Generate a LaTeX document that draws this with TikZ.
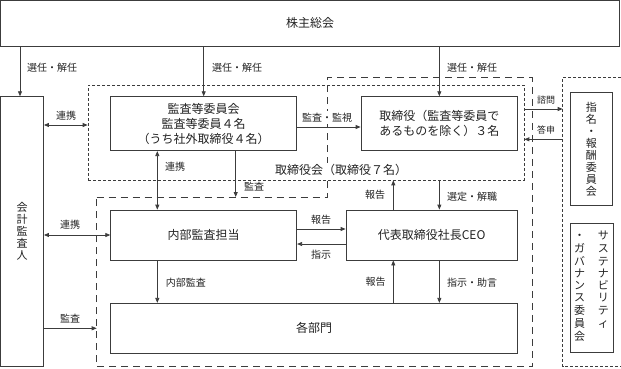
\documentclass[tikz,border=0pt]{standalone}
\usepackage{fontspec}
\setmainfont{Noto Sans CJK JP}
\usetikzlibrary{arrows.meta}
\definecolor{ln}{HTML}{3C3C3C}
\definecolor{tx}{HTML}{222222}
\begin{document}
\begin{tikzpicture}[x=1pt,y=-1pt,
  box/.style={draw=ln, line width=0.8pt, inner sep=0pt, text=tx, font=\fontsize{12}{15}\selectfont, align=center},
  vbox/.style={box, font=\fontsize{11}{12}\selectfont},
  lbl/.style={font=\fontsize{10}{12}\selectfont, inner sep=0pt, text=tx},
  slbl/.style={lbl, font=\fontsize{9}{11}\selectfont},
  arr/.style={draw=ln, line width=0.8pt, -{Triangle[length=5pt,width=4pt]}},
  darr/.style={draw=ln, line width=0.8pt, {Triangle[length=5pt,width=4pt]}-{Triangle[length=5pt,width=4pt]}},
  sdash/.style={draw=ln, line width=0.7pt, dash pattern=on 3pt off 2pt},
  ldash/.style={draw=ln, line width=0.7pt, dash pattern=on 7pt off 5pt},
]
\useasboundingbox (0,0) rectangle (621,368);
\clip (0,0) rectangle (621,368);

% main boxes
\node[box, minimum width=619pt, minimum height=45.5pt] (gm) at (310,23.25) {株主総会};
\node[vbox, minimum width=43pt, minimum height=270pt] (kaikei) at (22,231.7) {会\\計\\監\\査\\人};
\node[box, minimum width=186pt, minimum height=54pt] (kansa) at (203.7,123.7) {監査等委員会\\監査等委員４名\\（うち社外取締役４名）};
\node[box, minimum width=156.7pt, minimum height=54pt] (tori) at (439.35,123.7) {取締役（監査等委員で\\あるものを除く）３名};
\node[box, minimum width=186pt, minimum height=50pt] (naibu) at (203.7,235) {内部監査担当};
\node[box, minimum width=171.3pt, minimum height=50pt] (ceo) at (431.65,235) {代表取締役社長CEO};
\node[box, minimum width=406.6pt, minimum height=50pt] (bumon) at (314,328.3) {各部門};
\node[vbox, minimum width=42.7pt, minimum height=113pt] (shimei) at (591.35,149.2) {指\\名\\・\\報\\酬\\委\\員\\会};
\node[vbox, minimum width=43pt, minimum height=129pt] (sus) at (591.5,287.5)
  {\begin{tabular}{@{}c@{\hspace{13pt}}c@{}}
   ・&サ\\ ガ&ス\\ バ&テ\\ ナ&ナ\\ ン&ビ\\ ス&リ\\ 委&テ\\ 員&ィ\\ 会&\\
   \end{tabular}};

% board of directors (short dashes)
\node[sdash, minimum width=436pt, minimum height=95pt, inner sep=0pt] (torikai) at (306,132.5) {};

% committees frame (short dashes)
\coordinate (cmL) at (562.7,0);
\draw[sdash] (621,77.7) -- (562.7,77.7) -- (562.7,366.7) -- (621,366.7);

% execution region (long dashes)
\coordinate (L1) at (96.7,197);
\coordinate (L2) at (327.7,197);
\coordinate (L3) at (327.7,77.7);
\coordinate (L4) at (532.3,77.7);
\coordinate (L5) at (532.3,366.7);
\coordinate (L6) at (96.7,366.7);
\draw[ldash] (L1) -- (L2) -- (L3) -- (L4) -- (L5) -- (L6) -- cycle;

\node[lbl, font=\fontsize{12}{14}\selectfont, fill=white, inner sep=1.5pt] (torikailbl) at (341,170) {取締役会（取締役７名）};

% guide coordinates
\coordinate (x0) at (20,0);
\coordinate (xa) at (157.3,0);
\coordinate (xb) at (235.7,0);
\coordinate (xc) at (393.3,0);
\coordinate (y1) at (0,125);
\coordinate (y2) at (0,127);
\coordinate (y3) at (0,229);
\coordinate (y4) at (0,244);
\coordinate (y5) at (0,235);
\coordinate (y6) at (0,328.3);
\coordinate (y7) at (0,109);
\coordinate (y8) at (0,139.3);

% connectors
\draw[arr] (gm.south -| x0) -- (kaikei.north -| x0);
\draw[arr] (gm.south -| kansa.north) -- (kansa.north);
\draw[arr] (gm.south -| tori.north) -- (tori.north);
\draw[darr] (kaikei.east |- y1) -- (torikai.west |- y1);
\draw[arr] (kansa.east |- y2) -- (tori.west |- y2);
\draw[darr] (kansa.south -| xa) -- (naibu.north -| xa);
\draw[arr] (kansa.south -| xb) -- (L1 -| xb);
\draw[arr] (ceo.north -| xc) -- (torikai.south -| xc);
\draw[arr] (torikai.south -| tori.south) -- (ceo.north -| tori.south);
\draw[darr] (kaikei.east |- y5) -- (naibu.west |- y5);
\draw[arr] (naibu.east |- y3) -- (ceo.west |- y3);
\draw[arr] (ceo.west |- y4) -- (naibu.east |- y4);
\draw[arr] (naibu.south -| xa) -- (bumon.north -| xa);
\draw[arr] (bumon.north -| xc) -- (ceo.south -| xc);
\draw[arr] (ceo.south -| tori.south) -- (bumon.north -| tori.south);
\draw[arr] (kaikei.east |- y6) -- (L1 |- y6);
\draw[arr] (torikai.east |- y7) -- (cmL |- y7);
\draw[arr] (cmL |- y8) -- (torikai.east |- y8);

% labels
\node[lbl, anchor=west] (l1) at (27,68) {選任・解任};
\node[lbl, anchor=west] (l2) at (212,68) {選任・解任};
\node[lbl, anchor=west] (l3) at (447,68) {選任・解任};
\node[lbl] (l4) at (66,116) {連携};
\node[lbl, fill=white, inner sep=1.5pt] (l5) at (327,117.5) {監査・監視};
\node[lbl] (l6) at (175,167) {連携};
\node[lbl] (l7) at (254,187) {監査};
\node[lbl] (l8) at (375,195) {報告};
\node[lbl, anchor=west] (l9) at (447,196.7) {選定・解職};
\node[lbl] (l10) at (70,225) {連携};
\node[lbl] (l11) at (321,220) {報告};
\node[lbl] (l12) at (321,255) {指示};
\node[lbl, anchor=west] (l13) at (165.7,282.7) {内部監査};
\node[lbl] (l14) at (375.5,281.7) {報告};
\node[lbl, anchor=west] (l15) at (447,282.7) {指示・助言};
\node[lbl] (l16) at (70,319) {監査};
\node[slbl] (l17) at (546,100) {諮問};
\node[slbl] (l18) at (546,130) {答申};
\end{tikzpicture}
\end{document}
